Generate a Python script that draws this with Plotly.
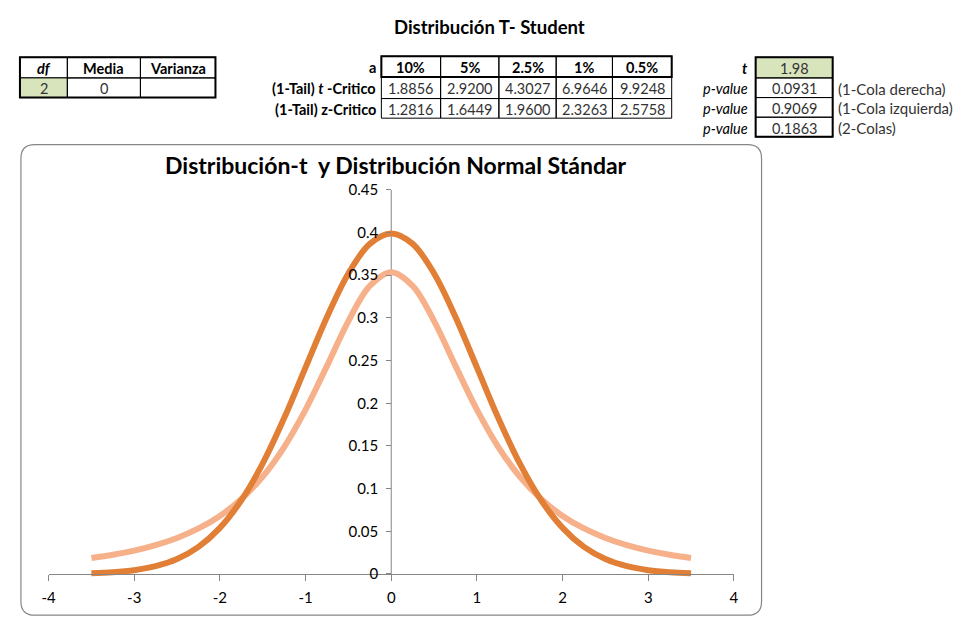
import plotly.graph_objects as go

# ---------------- data ----------------
x_vals = [-3.5, -3.25, -3.0, -2.75, -2.5, -2.25, -2.0, -1.75, -1.5, -1.25, -1.0, -0.75, -0.5, -0.25,
          0.0, 0.25, 0.5, 0.75, 1.0, 1.25, 1.5, 1.75, 2.0, 2.25, 2.5, 2.75, 3.0, 3.25, 3.5]
normal_vals = [0.0009, 0.0020, 0.0044, 0.0091, 0.0175, 0.0317, 0.0540, 0.0863, 0.1295, 0.1826,
               0.2420, 0.3011, 0.3521, 0.3867, 0.3989, 0.3867, 0.3521, 0.3011, 0.2420, 0.1826,
               0.1295, 0.0863, 0.0540, 0.0317, 0.0175, 0.0091, 0.0044, 0.0020, 0.0009]
t_vals = [0.0186, 0.0225, 0.0274, 0.0338, 0.0422, 0.0533, 0.0680, 0.0878, 0.1141, 0.1487,
          0.1925, 0.2438, 0.2963, 0.3376, 0.3536, 0.3376, 0.2963, 0.2438, 0.1925, 0.1487,
          0.1141, 0.0878, 0.0680, 0.0533, 0.0422, 0.0338, 0.0274, 0.0225, 0.0186]

x_ticks = [-4, -3, -2, -1, 0, 1, 2, 3, 4]
x_tick_text = ["-4", "-3", "-2", "-1", "0", "1", "2", "3", "4"]
y_ticks = [0, 0.05, 0.1, 0.15, 0.2, 0.25, 0.3, 0.35, 0.4, 0.45]
y_tick_text = ["0", "0.05", "0.1", "0.15", "0.2", "0.25", "0.3", "0.35", "0.4", "0.45"]

df_header = ["<i>df</i>", "Media", "Varianza"]
df_values = ["2", "0", ""]

alpha_labels = ["10%", "5%", "2.5%", "1%", "0.5%"]
t_crit = ["1.8856", "2.9200", "4.3027", "6.9646", "9.9248"]
z_crit = ["1.2816", "1.6449", "1.9600", "2.3263", "2.5758"]
crit_row_labels = ["<b>a</b>", "<b>(1-Tail) <i>t</i> -Critico</b>", "<b>(1-Tail) z-Critico</b>"]

t_stat = "1.98"
p_values = ["0.0931", "0.9069", "0.1863"]
p_labels = ["(1-Cola derecha)", "(1-Cola izquierda)", "(2-Colas)"]

page_title = "Distribución T- Student"
chart_title = "Distribución-t  y Distribución Normal Stándar"

# ---------------- layout helpers ----------------
W, H = 961, 619
OFF = 8  # page body margin
FONT = "Lato"
TS = 14.5  # table font size
DARK = "#E07F35"
LIGHT = "#F6B08A"
GREEN = "#D8E4BC"
AXIS = "#868686"


def px(x):
    return (x - OFF) / W


def py(y):
    return 1 - (y - OFF) / H


shapes = []
annots = []


def cell(x0, y0, x1, y1, fill=None, width=1):
    shapes.append(dict(type="rect", xref="paper", yref="paper",
                       x0=px(x0), x1=px(x1), y0=py(y1), y1=py(y0),
                       line=dict(color="black", width=width),
                       fillcolor=fill if fill else "rgba(0,0,0,0)", layer="below"))


def text(x, y, s, anchor="center", size=TS, color="black", bold=False):
    if bold:
        s = "<b>" + s + "</b>"
    annots.append(dict(xref="paper", yref="paper", x=px(x), y=py(y), text=s,
                       showarrow=False, xanchor=anchor, yanchor="middle",
                       font=dict(family=FONT, size=size, color=color)))


# page title
text(488, 17, page_title, size=18.5, bold=True)

# table 1 (df, media, varianza)
c1 = [13, 61, 135, 211]
r1 = [48, 69, 89]
for i in range(3):
    cell(c1[i], r1[0], c1[i + 1], r1[1])
    text((c1[i] + c1[i + 1]) / 2, (r1[0] + r1[1]) / 2 + 1, df_header[i], bold=True)
    cell(c1[i], r1[1], c1[i + 1], r1[2], fill=GREEN if i == 0 else None)
    text((c1[i] + c1[i + 1]) / 2, (r1[1] + r1[2]) / 2 + 1, df_values[i], color="#333333")
cell(c1[0], r1[0], c1[-1], r1[-1], width=2)

# table 2 (critical values)
c2 = [379, 439, 498, 556, 613, 673]
r2 = [47, 68, 90, 110]
rows2 = [alpha_labels, t_crit, z_crit]
for r in range(3):
    for i in range(5):
        cell(c2[i], r2[r], c2[i + 1], r2[r + 1])
        text((c2[i] + c2[i + 1]) / 2, (r2[r] + r2[r + 1]) / 2 + 1, rows2[r][i],
             bold=(r == 0), color="black" if r == 0 else "#333333")
    text(376, (r2[r] + r2[r + 1]) / 2 + 1, crit_row_labels[r], anchor="right")
cell(c2[0], r2[0], c2[-1], r2[1], width=2)

# table 3 (t and p-values)
c3 = [758, 836]
r3 = [48, 69, 89, 109, 129]
cell(c3[0], r3[0], c3[1], r3[1], fill=GREEN)
text((c3[0] + c3[1]) / 2, (r3[0] + r3[1]) / 2 + 1, t_stat, color="#333333")
text(752, (r3[0] + r3[1]) / 2 + 1, "<b><i>t</i></b>", anchor="right")
for k in range(3):
    cell(c3[0], r3[k + 1], c3[1], r3[k + 2])
    yy = (r3[k + 1] + r3[k + 2]) / 2 + 1
    text((c3[0] + c3[1]) / 2, yy, p_values[k], color="#333333")
    text(752, yy, "<i>p-value</i>", anchor="right")
    text(839, yy, p_labels[k], anchor="left", color="#333333", size=15)
cell(c3[0], r3[0], c3[1], r3[-1], width=2)

# chart area rounded border
bx0, by0, bx1, by1, rr = 14, 137, 764, 616, 14
rx, ry = rr / W, rr / H
X0, X1, Y0, Y1 = px(bx0), px(bx1), py(by0), py(by1)
path = (f"M {X0 + rx},{Y0} L {X1 - rx},{Y0} Q {X1},{Y0} {X1},{Y0 - ry} "
        f"L {X1},{Y1 + ry} Q {X1},{Y1} {X1 - rx},{Y1} "
        f"L {X0 + rx},{Y1} Q {X0},{Y1} {X0},{Y1 + ry} "
        f"L {X0},{Y0 - ry} Q {X0},{Y0} {X0 + rx},{Y0} Z")
shapes.append(dict(type="path", xref="paper", yref="paper", path=path,
                   line=dict(color=AXIS, width=1.2), layer="below"))

# chart title
text(394, 158, chart_title, size=23, bold=True)

# ---------------- figure ----------------
fig = go.Figure()
fig.add_trace(go.Scatter(x=x_vals, y=t_vals, mode="lines", line=dict(color=LIGHT, width=6, shape="spline"),
                         name="t", showlegend=False))
fig.add_trace(go.Scatter(x=x_vals, y=normal_vals, mode="lines", line=dict(color=DARK, width=6, shape="spline"),
                         name="Normal", showlegend=False))

# y axis vertical line at x = 0
shapes.append(dict(type="line", xref="x", yref="y", x0=0, x1=0, y0=0, y1=0.45,
                   line=dict(color=AXIS, width=1), layer="below"))

y_bottom_px = 574 + 0.008 * (391 / 0.45)
fig.update_layout(
    width=W, height=H,
    margin=dict(l=0, r=0, t=0, b=0),
    paper_bgcolor="white", plot_bgcolor="rgba(0,0,0,0)",
    shapes=shapes, annotations=annots,
    xaxis=dict(domain=[px(42), px(736)], range=[-4, 4], anchor="free", position=py(574),
               tickvals=x_ticks, ticktext=x_tick_text, showgrid=False, zeroline=False,
               showline=True, linecolor=AXIS, linewidth=1, ticks="outside", ticklen=6,
               tickcolor=AXIS, ticklabelstandoff=4,
               tickfont=dict(family=FONT, size=15, color="black")),
    yaxis=dict(domain=[py(y_bottom_px), py(183)], range=[-0.008, 0.45], anchor="free",
               position=px(389), tickvals=y_ticks, ticktext=y_tick_text, showgrid=False,
               zeroline=False, showline=False, ticks="outside", ticklen=5, tickcolor=AXIS,
               ticklabelstandoff=5,
               tickfont=dict(family=FONT, size=15, color="black")),
)

fig.write_html("out.html")
